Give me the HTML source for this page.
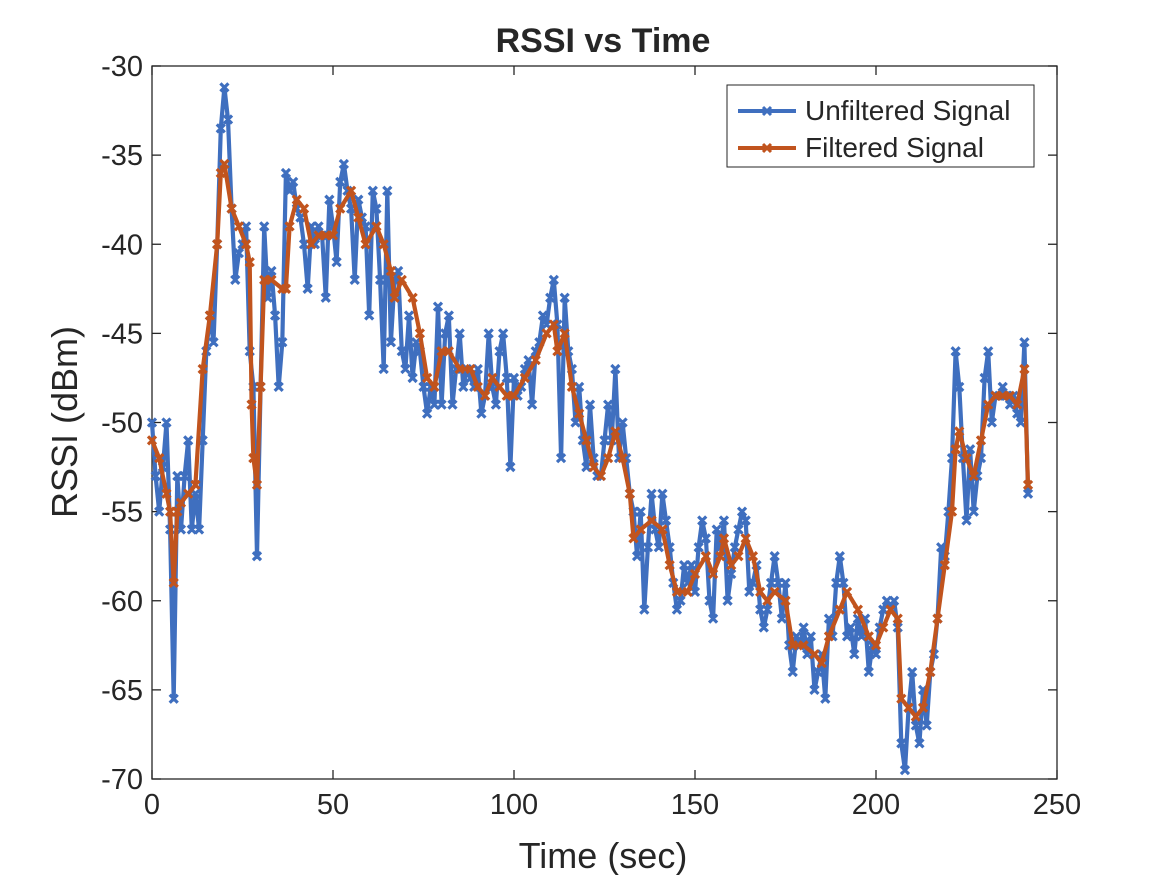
<!DOCTYPE html>
<html><head><meta charset="utf-8"><style>
body{margin:0;background:#fff;}
svg text{font-family:"Liberation Sans",Arial,sans-serif;fill:#262626;}
</style></head><body>
<svg id="chart" width="1166" height="875">
<text x="603" y="52" text-anchor="middle" font-size="34" font-weight="bold">RSSI vs Time</text>
<g id="axes"></g>
<g id="series"></g>
<text x="603" y="868" text-anchor="middle" font-size="36">Time (sec)</text>
<text transform="translate(77,422) rotate(-90)" text-anchor="middle" font-size="36">RSSI (dBm)</text>
<g>
<rect x="727" y="85" width="307" height="82" fill="#fff" stroke="#262626" stroke-width="1"/>
<g>
<line x1="738" y1="111" x2="796" y2="111" stroke="#3f6fbf" stroke-width="4"/>
<path d="M763,107L771,115M763,115L771,107" stroke="#3f6fbf" stroke-width="3"/>
<text x="805" y="120" font-size="28">Unfiltered Signal</text></g>
<g>
<line x1="738" y1="148" x2="796" y2="148" stroke="#c1541e" stroke-width="4"/>
<path d="M763,144L771,152M763,152L771,144" stroke="#c1541e" stroke-width="3"/>
<text x="805" y="157" font-size="28">Filtered Signal</text></g>
</g>
</svg>
<script>
const xTicks=[0,50,100,150,200,250];
const yTicks=[-30,-35,-40,-45,-50,-55,-60,-65,-70];
const rawT=[];for(let i=0;i<=242;i++)rawT.push(i);
const rawV=[-50,-53,-55,-52.5,-50,-56,-65.5,-53,-56,-53,-51,-56,-54,-56,-51,-46,-44,-45.5,-40,-33.5,-31.2,-33,-38,-42,-40.5,-40,-39,-46,-48,-57.5,-48,-39,-43,-41.5,-44,-48,-45.5,-36,-37,-36.5,-38,-38.5,-40,-42.5,-39,-40,-39,-39.5,-43,-37.5,-39,-41,-36.5,-35.5,-37,-38,-42,-37.5,-38.5,-39,-44,-37,-38,-42,-47,-37,-45.5,-42,-41.5,-46,-47,-44,-47.5,-45.5,-46,-48,-49.5,-48,-49,-43.5,-49,-45,-44,-49,-47,-45,-48,-47,-47.5,-48,-47,-49.5,-48.5,-45,-48,-49,-46,-45,-47.5,-52.5,-47.5,-48.5,-48,-47,-46.5,-49,-46,-45.5,-44,-44.5,-43,-42,-44.5,-52,-43,-46,-47,-50,-48,-51,-52.5,-49,-52,-53,-53,-51,-49,-51,-47,-52,-50,-52,-54,-55,-57.5,-55,-60.5,-57,-54,-56,-57,-54,-55.5,-57,-59,-60.5,-60,-58,-59,-58,-59.5,-57,-55.5,-56.5,-60,-61,-56,-57,-55.5,-60,-58.5,-57,-56,-55,-55.5,-59.5,-59,-58,-60.5,-61.5,-60.5,-59,-57.5,-59,-61,-59,-62.5,-64,-62,-62.5,-61.5,-63,-62,-65,-64,-63,-65.5,-61,-62,-59,-57.5,-59,-62,-61.5,-63,-61,-62,-61,-64,-62.5,-63,-61.5,-60.5,-60,-60.5,-60,-61.5,-68,-69.5,-66,-64,-67,-68,-65,-67,-64,-63,-61,-57,-57.5,-55,-52,-46,-48,-52,-55.5,-51.5,-55,-53,-52,-47.5,-46,-50,-48.5,-48.5,-48,-48.5,-49,-48.5,-49.5,-50,-45.5,-54];
const filtT=[0,2,4,5,6,7,8,10,12,14,16,18,19,20,22,24,26,27,27.5,28,29,30,31,33,36,37,38,40,42,44,46,48,50,52,55,57,59,62,64,66,67,69,72,74,76,78,80,82,85,88,90,92,94,96,98,100,103,106,109,111,112,114,116,118,120,122,124,126,128,130,132,133,135,138,141,143,145,148,150,153,155,157,158,160,162,164,166,168,170,172,175,177,180,183,185,187,190,192,195,198,200,202,204,206,207,209,211,213,215,217,219,221,222,223,225,227,229,231,233,235,237,239,241,242];
const filtV=[-51,-52,-54,-55,-59,-55,-54.5,-54,-53.5,-47,-44,-40,-36,-35.5,-38,-39,-40,-41,-49,-52,-53.5,-48,-42,-42,-42.5,-42.5,-39,-37.5,-38,-40,-39.5,-39.5,-39.5,-38,-37,-38.5,-40,-39,-40,-41.5,-43,-42,-43,-45,-47.5,-48,-46,-46,-47,-47,-48,-48.5,-47.5,-48,-48.5,-48.5,-47.5,-46.5,-45,-44.5,-46,-45,-48,-49.5,-51,-52.5,-53,-52,-50.5,-52,-54,-56.5,-56,-55.5,-56,-58,-59.5,-59.5,-58.5,-57.5,-58.5,-57.5,-56.5,-58,-57.5,-56.5,-57.5,-59.5,-60,-59.5,-60,-62.5,-62.5,-63,-63.5,-62,-60.5,-59.5,-60.5,-62,-62.5,-61.5,-60.5,-61,-65.5,-66,-66.5,-66,-64,-61,-58,-55,-51.5,-50.5,-52,-53,-51,-49,-48.5,-48.5,-48.5,-49,-47,-53.5];

const NS='http://www.w3.org/2000/svg';
const L=152,R=1057,T=66,B=779;
const xs=v=>L+(v-0)/250*(R-L);
const ys=v=>T+(-30-v)/40*(B-T);
function mk(tag,attrs,parent){const e=document.createElementNS(NS,tag);for(const k in attrs)e.setAttribute(k,attrs[k]);parent.appendChild(e);return e;}
const ax=document.getElementById('axes');
const frame=mk('rect',{x:L,y:T,width:R-L,height:B-T,fill:'none',stroke:'#262626','stroke-width':1.3},ax);


xTicks.forEach(t=>{
  const x=xs(t);
  mk('line',{x1:x,y1:B,x2:x,y2:B-9,stroke:'#262626','stroke-width':1.3},ax);
  mk('line',{x1:x,y1:T,x2:x,y2:T+9,stroke:'#262626','stroke-width':1.3},ax);
  const tx=mk('text',{x:x,y:B+35,'text-anchor':'middle','font-size':29},ax);
  tx.textContent=t;
  
  
});
yTicks.forEach(t=>{
  const y=ys(t);
  mk('line',{x1:L,y1:y,x2:L+9,y2:y,stroke:'#262626','stroke-width':1.3},ax);
  mk('line',{x1:R,y1:y,x2:R-9,y2:y,stroke:'#262626','stroke-width':1.3},ax);
  const tx=mk('text',{x:L-9,y:y+10,'text-anchor':'end','font-size':29},ax);
  tx.textContent=t;
  
  
});
const sg=document.getElementById('series');
function series(T,V,color,name){
  const g=mk('g',{},sg);
  
  
  const pts=T.map((t,i)=>xs(t).toFixed(1)+','+ys(V[i]).toFixed(1)).join(' ');
  mk('polyline',{points:pts,fill:'none',stroke:color,'stroke-width':4.2,'stroke-linejoin':'round'},g);
  let d='';
  T.forEach((t,i)=>{const x=xs(t),y=ys(V[i]),s=4;d+=`M${x-s},${y-s}L${x+s},${y+s}M${x-s},${y+s}L${x+s},${y-s}`;});
  mk('path',{d:d,stroke:color,'stroke-width':3.2,fill:'none'},g);
}
series(rawT,rawV,'#3f6fbf','unfiltered-series');
series(filtT,filtV,'#c1541e','filtered-series');
</script>
</body></html>
